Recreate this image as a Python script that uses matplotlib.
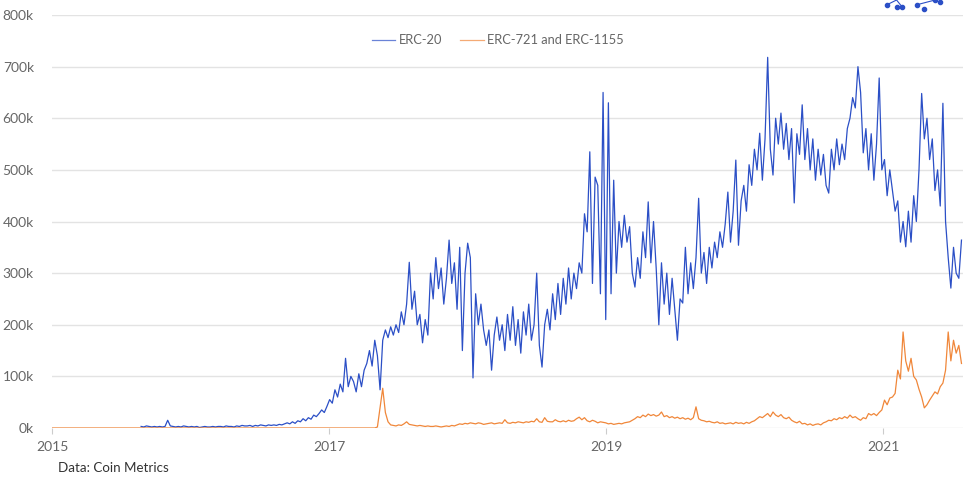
import pandas as pd
import matplotlib
matplotlib.use('Agg')
from matplotlib import pyplot as plt
from matplotlib.ticker import FuncFormatter

plt.rcParams['font.family'] = ['Lato', 'DejaVu Sans']

# weekly values, thousands of active addresses
erc20_start = '2015-08-24'
erc20 = [3, 2, 4, 3, 2, 3, 2, 3, 2, 3,
         15, 4, 3, 2, 3, 2, 4, 3, 2, 3,
         2, 3, 1, 2, 3, 2, 2, 3, 2, 3,
         3, 2, 4, 3, 3, 2, 4, 3, 5, 4,
         4, 5, 3, 5, 4, 6, 5, 4, 6, 5,
         6, 5, 7, 6, 8, 10, 8, 12, 9, 14,
         12, 18, 14, 20, 17, 25, 22, 28, 35, 30,
         42, 55, 48, 74, 60, 85, 70, 135, 80, 100,
         90, 70, 105, 80, 112, 125, 150, 120, 170, 140,
         74, 170, 190, 175, 196, 180, 200, 185, 225, 200,
         240, 321, 230, 265, 200, 220, 165, 210, 180, 300,
         250, 330, 270, 310, 240, 290, 364, 280, 320, 230,
         350, 150, 300, 358, 330, 97, 260, 200, 240, 190,
         160, 190, 112, 180, 215, 170, 200, 150, 220, 170,
         235, 160, 210, 145, 225, 180, 240, 170, 200, 300,
         160, 118, 200, 230, 190, 260, 210, 280, 220, 290,
         240, 310, 250, 300, 270, 320, 300, 415, 380, 535,
         280, 486, 470, 260, 650, 210, 630, 260, 480, 300,
         400, 350, 412, 360, 390, 300, 273, 330, 290, 380,
         330, 438, 320, 400, 310, 200, 320, 240, 300, 220,
         290, 230, 170, 250, 242, 350, 260, 320, 270, 330,
         445, 300, 340, 280, 350, 310, 360, 330, 380, 350,
         395, 457, 360, 420, 519, 354, 440, 470, 420, 510,
         470, 540, 500, 571, 480, 560, 718, 540, 490, 600,
         550, 610, 540, 590, 520, 580, 436, 570, 530, 626,
         520, 580, 500, 560, 480, 540, 490, 530, 470, 455,
         540, 500, 560, 510, 550, 520, 580, 600, 640, 620,
         700, 650, 533, 580, 500, 570, 480, 550, 678, 500,
         520, 450, 500, 460, 420, 440, 360, 400, 351, 420,
         360, 450, 400, 500, 648, 560, 600, 520, 560, 460,
         500, 430, 629, 400, 330, 271, 350, 300, 290, 364]

erc721_first = '2015-01-01'
erc721_start = '2017-04-03'
erc721 = [0,
          0, 0, 0, 0, 0, 2, 40, 77, 30, 12, 6,
          5, 4, 6, 5, 8, 12, 7, 6, 5, 4,
          5, 4, 3, 4, 3, 3, 4, 3, 2, 3,
          4, 3, 5, 4, 6, 8, 7, 9, 8, 10,
          9, 8, 10, 9, 7, 8, 9, 10, 8, 9,
          10, 9, 16, 10, 9, 11, 10, 12, 11, 10,
          12, 11, 13, 12, 18, 12, 11, 20, 13, 12,
          12, 16, 13, 12, 14, 12, 15, 13, 14, 18,
          21, 16, 20, 14, 12, 15, 13, 10, 12, 11,
          10, 8, 9, 7, 8, 9, 8, 10, 11, 12,
          15, 18, 22, 20, 25, 22, 27, 24, 26, 23,
          25, 31, 22, 24, 20, 22, 19, 21, 18, 20,
          17, 19, 16, 20, 41, 18, 15, 14, 12, 13,
          11, 10, 12, 9, 10, 8, 9, 10, 8, 11,
          9, 10, 8, 11, 9, 12, 14, 18, 22, 20,
          24, 28, 22, 31, 25, 22, 26, 20, 18, 21,
          15, 12, 10, 13, 8, 9, 6, 8, 5, 7,
          8, 6, 10, 12, 15, 14, 18, 16, 20, 18,
          22, 19, 25, 20, 22, 18, 15, 20, 18, 28,
          25, 28, 24, 30, 35, 54, 45, 58, 60, 67,
          112, 95, 186, 130, 110, 135, 100, 93, 75, 60,
          39, 45, 54, 62, 70, 66, 80, 87, 112, 186,
          130, 170, 145, 160, 125]

labels = ['ERC-20', 'ERC-721 and ERC-1155']
year_ticks = ['2015', '2017', '2019', '2021']

erc20_dates = pd.date_range(erc20_start, periods=len(erc20), freq='7D')
erc721_dates = pd.DatetimeIndex([erc721_first]).append(
    pd.date_range(erc721_start, periods=len(erc721) - 1, freq='7D'))

blue = '#2b4fc6'
orange = '#f0873a'
grey = '#666666'

fig = plt.figure(figsize=(9.63, 4.78), dpi=100)
ax = fig.add_axes([0.054, 0.1046, 0.946, 0.864])

ax.plot(erc20_dates, [v * 1000 for v in erc20], color=blue, lw=0.9, label=labels[0])
ax.plot(erc721_dates, [v * 1000 for v in erc721], color=orange, lw=0.9, label=labels[1])

ax.set_ylim(0, 800000)
ax.set_yticks(range(0, 800001, 100000))
ax.yaxis.set_major_formatter(FuncFormatter(lambda v, p: f'{int(v / 1000)}k'))
ax.set_xlim(pd.Timestamp('2015-01-01'), pd.Timestamp('2021-07-30'))
ax.set_xticks([pd.Timestamp(y + '-01-01') for y in year_ticks])
ax.set_xticklabels(year_ticks)

ax.grid(axis='y', color='#e3e3e3', lw=1)
ax.set_axisbelow(True)
for s in ax.spines.values():
    s.set_visible(False)
ax.tick_params(axis='y', length=0, pad=13, labelsize=10, labelcolor=grey)
ax.tick_params(axis='x', length=4, color='#cccccc', pad=5, labelsize=10, labelcolor=grey)

leg = fig.legend(loc='center', bbox_to_anchor=(0.517, 0.916), ncol=2, frameon=False,
                 fontsize=9.3, handlelength=1.8, columnspacing=1.4, handletextpad=0.3)
for t in leg.get_texts():
    t.set_color(grey)
for h in leg.get_lines():
    h.set_alpha(0.7)

fig.text(0.06, 0.021, 'Data: Coin Metrics', fontsize=9.6, color='#333333', va='center')

# small logo glimpse at top right
lx = [0.921, 0.931, 0.937, 0.952, 0.960, 0.971, 0.976]
ly = [0.990, 0.985, 0.985, 0.990, 0.982, 1.0, 0.995]
fig.add_artist(plt.Line2D([lx[0], lx[1], lx[2]], [ly[0], 1.0, ly[2]], color=blue, lw=0.8))
fig.add_artist(plt.Line2D([lx[3], lx[5], lx[6]], [ly[3], 1.0, ly[6]], color=blue, lw=0.8))
for x, y in zip(lx, ly):
    fig.add_artist(plt.Line2D([x], [y], marker='o', ms=3, color=blue))

fig.savefig('out.png', dpi=100)
